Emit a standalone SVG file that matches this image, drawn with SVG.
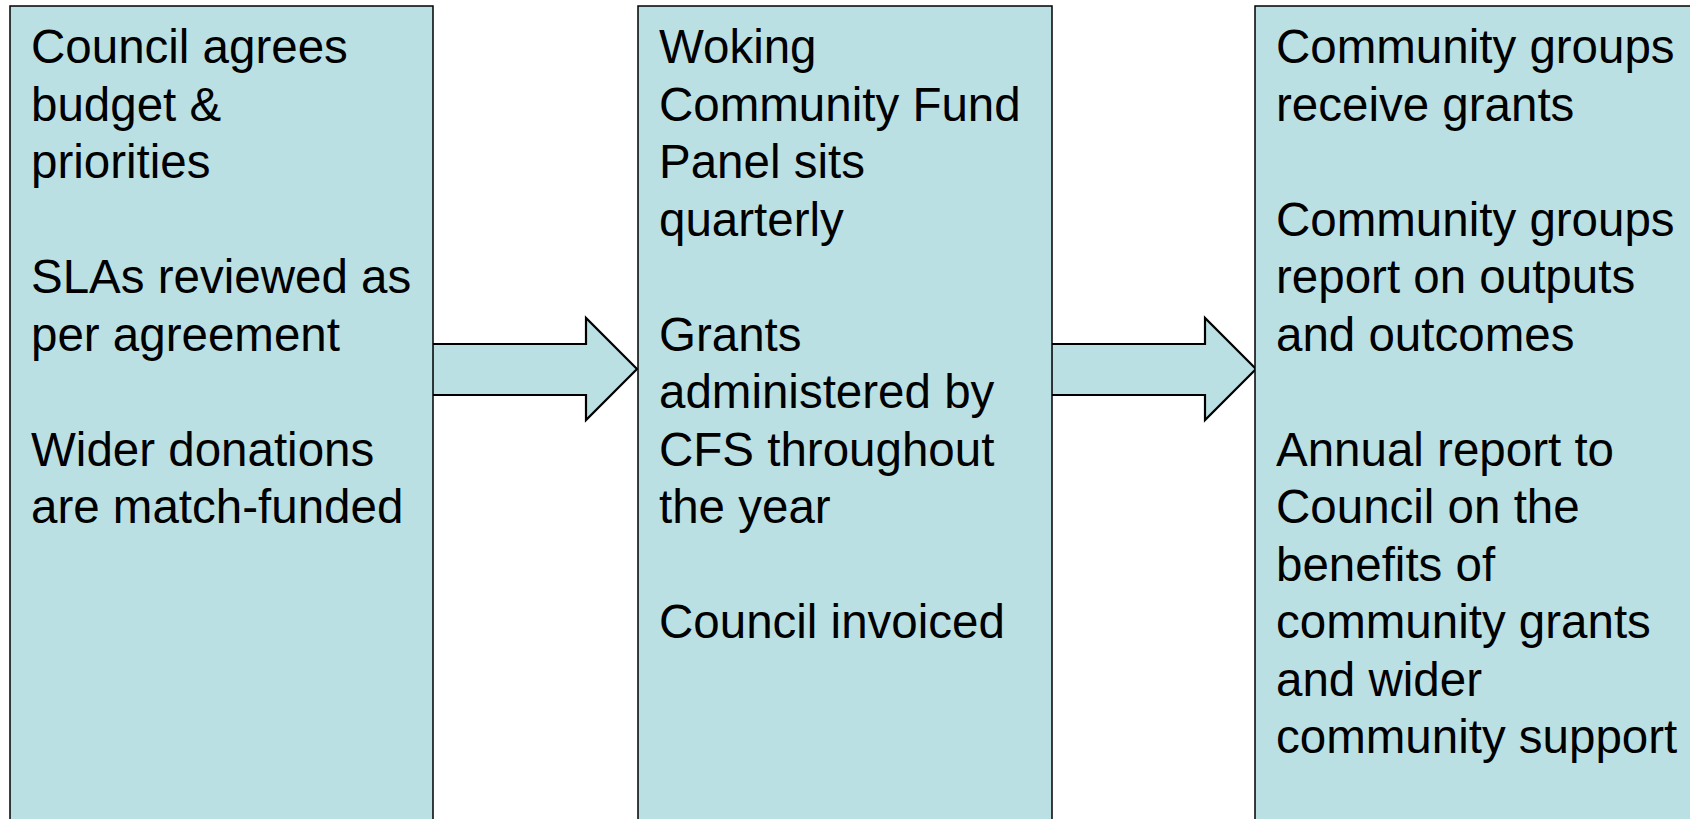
<svg xmlns="http://www.w3.org/2000/svg" width="1690" height="819" viewBox="0 0 1690 819">
<style>
.box{fill:#BBE0E3;stroke:#000;stroke-width:1.5}
.arrow{fill:#BBE0E3;stroke:#000;stroke-width:2.2;stroke-linejoin:miter}
text{font-family:"Liberation Sans",Arial,sans-serif;font-size:47.5px;fill:#000}
</style>
<rect width="1690" height="819" fill="#fff"/>
<g id="connectors">
<polygon class="arrow" points="432,344 586,344 586,318 637,369 586,420 586,395 432,395"/>
<polygon class="arrow" points="1051,344 1205,344 1205,318 1256,369 1205,420 1205,395 1051,395"/>
</g>
<g id="node1">
<rect class="box" x="10" y="6" width="423" height="830"/>
<text x="31" y="63">Council agrees</text>
<text x="31" y="120.5">budget &amp;</text>
<text x="31" y="178">priorities</text>
<text x="31" y="293">SLAs reviewed as</text>
<text x="31" y="350.5">per agreement</text>
<text x="31" y="465.5">Wider donations</text>
<text x="31" y="523">are match-funded</text>
</g>
<g id="node2">
<rect class="box" x="638" y="6" width="414" height="830"/>
<text x="659" y="63">Woking</text>
<text x="659" y="120.5">Community Fund</text>
<text x="659" y="178">Panel sits</text>
<text x="659" y="235.5">quarterly</text>
<text x="659" y="350.5">Grants</text>
<text x="659" y="408">administered by</text>
<text x="659" y="465.5">CFS throughout</text>
<text x="659" y="523">the year</text>
<text x="659" y="638">Council invoiced</text>
</g>
<g id="node3">
<rect class="box" x="1255" y="6" width="460" height="830"/>
<text x="1276" y="63">Community groups</text>
<text x="1276" y="120.5">receive grants</text>
<text x="1276" y="235.5">Community groups</text>
<text x="1276" y="293">report on outputs</text>
<text x="1276" y="350.5">and outcomes</text>
<text x="1276" y="465.5">Annual report to</text>
<text x="1276" y="523">Council on the</text>
<text x="1276" y="580.5">benefits of</text>
<text x="1276" y="638">community grants</text>
<text x="1276" y="695.5">and wider</text>
<text x="1276" y="753">community support</text>
</g>
</svg>
